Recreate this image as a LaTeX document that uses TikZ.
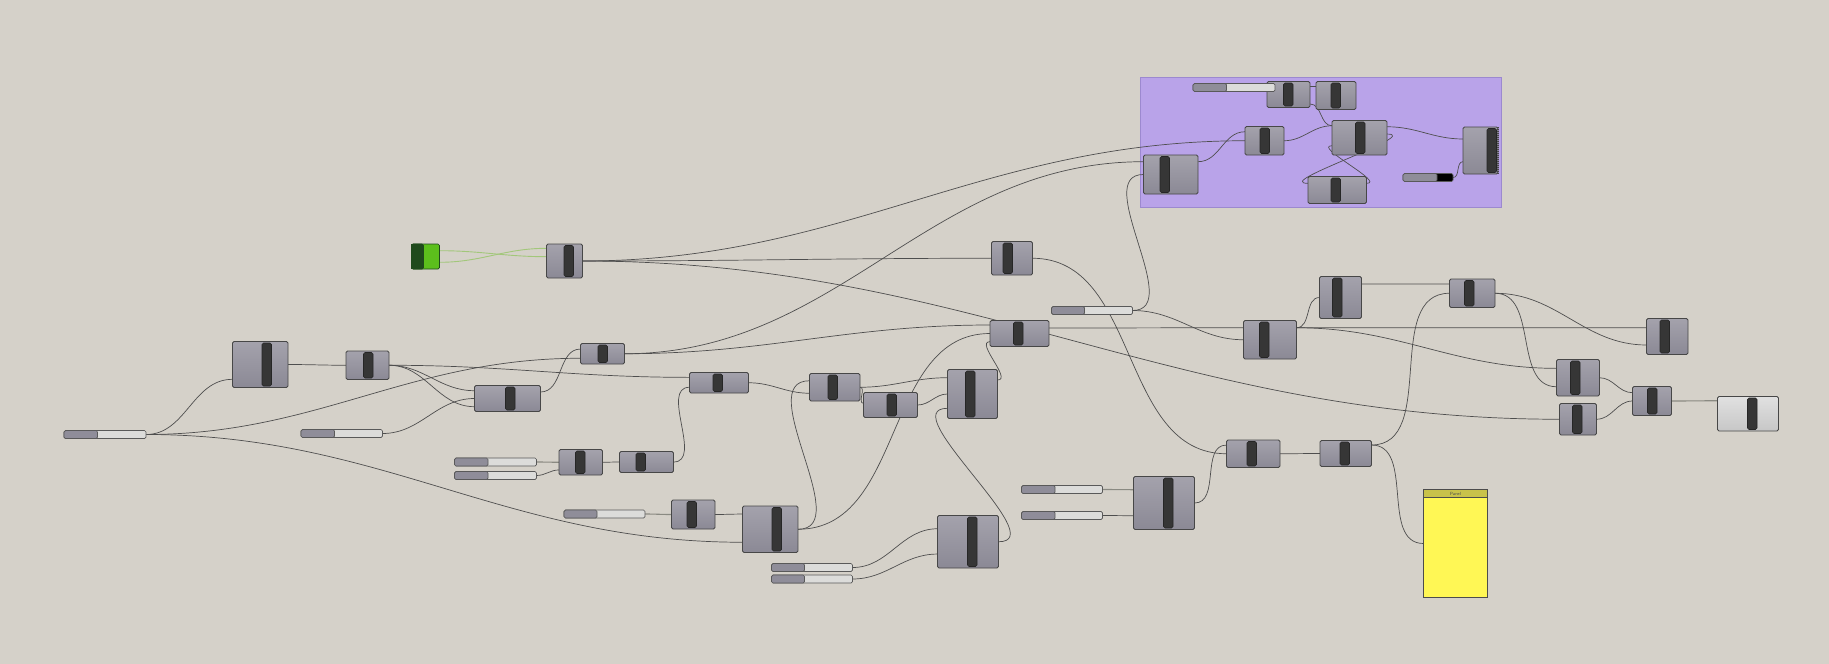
\documentclass[tikz,border=0pt]{standalone}
\usepackage{tikz}
\usetikzlibrary{positioning, calc, backgrounds}
\pgfdeclarelayer{wires}
\pgfsetlayers{background,wires,main}

\definecolor{cCanvas}   {HTML}{D5D1C9}
\definecolor{cGroup}    {HTML}{B9A3E9}
\definecolor{cGroupEdge}{HTML}{9C89CF}
\definecolor{cBoxTop}   {HTML}{A4A2AC}
\definecolor{cBoxBot}   {HTML}{8B8995}
\definecolor{cEdge}     {HTML}{474747}
\definecolor{cBar}      {HTML}{363636}
\definecolor{cWire}     {HTML}{4E4E4E}
\definecolor{cWireLt}   {HTML}{8A8A82}
\definecolor{cSlideL}   {HTML}{8F8D99}
\definecolor{cSlideR}   {HTML}{DCDCDA}
\definecolor{cGreenDk}  {HTML}{1F4A1C}
\definecolor{cGreen}    {HTML}{5CBF1C}
\definecolor{cGreenWire}{HTML}{A2C77A}
\definecolor{cPanel}    {HTML}{FFF755}
\definecolor{cPanelHead}{HTML}{C8C24A}

\tikzset{
  ghgroup/.style={draw=cGroupEdge, fill=cGroup, line width=0.8pt, inner sep=0pt, outer sep=0pt},
  ghbox/.style={draw=cEdge, line width=0.8pt, top color=cBoxTop, bottom color=cBoxBot,
                rounded corners=1.5pt, inner sep=0pt, outer sep=0pt},
  ghbar/.style={draw=black!85, line width=0.6pt, fill=cBar, rounded corners=1.5pt,
                inner sep=0pt, outer sep=0pt, minimum width=9.5pt},
  ghslide/.style={draw=cEdge!90, line width=0.7pt, fill=cSlideR, rounded corners=1.5pt,
                  inner sep=0pt, outer sep=0pt, minimum height=8pt},
  ghgrip/.style={ghslide, fill=cSlideL},
  wire/.style={draw=cWire, line width=0.7pt, out=0, in=180},
  litewire/.style={wire, draw=cWireLt, line width=1.1pt},
  greenwire/.style={wire, draw=cGreenWire, line width=0.9pt},
  jagged/.style={draw=cEdge, line width=1.4pt, dash pattern=on 1pt off 1pt},
}

% component: [extra], name, x, y, width, height, bar offset
\newcommand{\ghcomp}[7][]{%
  \node[ghbox, #1, minimum width=#5pt, minimum height=#6pt, anchor=north west] (#2) at (#3,#4) {};
  \node[ghbar, minimum height=#6pt-3pt, anchor=north west] (#2-bar) at ([xshift=#7pt, yshift=-1.5pt]#2.north west) {};}
\newcommand{\ghslider}[5]{%
  \node[ghslide, minimum width=#4pt, anchor=north west] (#1) at (#2,#3) {};
  \node[ghgrip, minimum width=#5pt, anchor=north west] (#1-grip) at (#1.north west) {};}

\begin{document}
\begin{tikzpicture}[x=1pt, y=-1pt]
  \useasboundingbox (0,0) rectangle (1829,664);
  \begin{scope}[on background layer]
    \fill[cCanvas] (0,0) rectangle (1829,664);
    \node[ghgroup, minimum width=361.5pt, minimum height=130pt, anchor=north west] (grp) at (1140,77.5) {};
  \end{scope}

  % group
  \ghcomp{gA}{1267}{81.5}{43}{26}{16.5}
  \ghslider{gsl}{1193}{83.5}{82}{33.5}
  \ghcomp{gB}{1316}{81.5}{40}{28}{15}
  \ghcomp{gC}{1332}{120.5}{55}{34.5}{23.5}
  \ghcomp{gD}{1245}{126.5}{39}{28.5}{15}
  \ghcomp{gE}{1143.5}{155}{54.5}{39}{16.5}
  \ghcomp{gF}{1308}{176.5}{58.5}{27}{23}
  \ghcomp{gG}{1463}{127}{35}{47}{24}
  \draw[jagged] (gG.north east) -- (gG.south east);
  \node[ghslide, fill=black, minimum width=50pt, anchor=north west] (bsl) at (1403,173.5) {};
  \node[ghgrip, minimum width=34pt, anchor=north west] (bsl-grip) at (bsl.north west) {};

  % input param
  \node[draw=cGreenDk, fill=cGreen, line width=0.7pt, rounded corners=1.5pt, inner sep=0pt, outer sep=0pt,
        minimum width=28pt, minimum height=25pt, anchor=north west] (param) at (411.5,244) {};
  \node[draw=cGreenDk, fill=cGreenDk, line width=0.7pt, rounded corners=1.5pt, inner sep=0pt, outer sep=0pt,
        minimum width=12pt, minimum height=25pt, anchor=north west] (param-dk) at (param.north west) {};
  \draw[jagged, draw=cGreenDk] (param.north west) -- (param.south west);

  \ghcomp{H}{546.5}{244}{36}{34}{17.5}
  \ghcomp{O}{991.5}{241.5}{41}{33.5}{11.5}
  \ghcomp{I}{232.5}{341.5}{55.5}{46}{29.5}
  \ghcomp{J}{346}{351}{43}{28.5}{17.5}
  \ghcomp{K}{474.5}{385.5}{66}{26}{31}
  \ghcomp{L}{580.5}{343.5}{44}{20.5}{17.5}
  \ghcomp{M}{689.5}{372.5}{59}{20.5}{23.5}
  \ghcomp{Q}{809.5}{373.5}{50.5}{27.5}{18.5}
  \ghcomp{Qb}{863.5}{392.5}{54}{25}{23.5}
  \ghcomp{R}{947.5}{369.5}{50}{49}{18}
  \ghcomp{N}{990}{320.5}{59}{26}{23.5}
  \ghslider{sx}{1051.5}{306.5}{81}{33}
  \ghcomp{U}{1243.5}{320.5}{53}{38.5}{16}
  \ghcomp{V}{1319.5}{276.5}{42}{42}{13}
  \ghcomp{Z}{1449.5}{279}{45.5}{28.5}{15}
  \ghcomp{X}{1646.5}{318.5}{41.5}{36}{13.5}
  \ghcomp{Y}{1556.5}{359.5}{43}{36.5}{14}
  \ghcomp{W}{1559.5}{403.5}{37}{31.5}{13}
  \ghcomp{AA}{1632.5}{386.5}{39}{29}{15}
  \ghcomp[top color=black!12, bottom color=black!22]{BB}{1717.5}{396.5}{61}{34.5}{30}
  \ghcomp{AB}{1226.5}{440}{53.5}{27.5}{20.5}
  \ghcomp{AC}{1320}{440.5}{51.5}{26}{20}
  \ghcomp{AD}{1133.5}{476.5}{61}{53}{30}

  \node[draw=black!70, line width=0.8pt, fill=cPanel, inner sep=0pt, outer sep=0pt,
        minimum width=64pt, minimum height=108pt, anchor=north west] (panel) at (1423.5,489.5) {};
  \node[draw=black!70, line width=0.8pt, fill=cPanelHead, inner sep=0pt, outer sep=0pt,
        minimum width=64pt, minimum height=8pt, anchor=north west,
        font=\sffamily\fontsize{4.5}{5}\selectfont, text=black!70] (panel-head) at (panel.north west) {Panel};

  \ghslider{s1}{64}{430.5}{82}{33.5}
  \ghslider{s2}{301}{429.5}{81.5}{33.5}
  \ghslider{s3}{454.5}{458}{82}{33.5}
  \ghslider{s4}{454.5}{471.5}{82}{33.5}
  \ghcomp{AE}{559}{449.5}{43.5}{25.5}{16.5}
  \ghcomp{AF}{619.5}{451.5}{54}{21}{16.5}
  \ghslider{s5}{564}{510}{81}{33}
  \ghcomp{AG}{671.5}{500}{43.5}{29}{15.5}
  \ghcomp{P}{742.5}{506}{55.5}{46.5}{29.5}
  \ghslider{s6}{1021.5}{485.5}{81}{33.5}
  \ghslider{s7}{1021.5}{511.5}{81}{33.5}
  \ghslider{s8}{771.5}{563.5}{81}{33}
  \ghslider{s9}{771.5}{575}{81}{33}
  \ghcomp{T}{937.5}{515.5}{61}{52.5}{30}

  % wires
  \begin{pgfonlayer}{wires}
    \draw[greenwire] ([yshift=5.8pt]param.east) to ([yshift=4.3pt]H.west);
    \draw[greenwire] ([yshift=-5.8pt]param.east) to ([yshift=12.7pt]H.west);
    \draw[wire] (H.east) to (gD.west);
    \draw[wire] (H.east) to (O.west);
    \draw[wire] (H.east) to (W.west);
    \draw[wire] (s1.east) to ([yshift=-14.8pt]I.west);
    \draw[wire] (s1.east) to ([yshift=-4.5pt]L.west);
    \draw[wire] (s1.east) to ([yshift=-13pt]P.west);
    \draw[wire] (I.east) to (J.west);
    \draw[wire] (J.east) to ([yshift=7.8pt]K.west);
    \draw[wire] (J.east) to ([yshift=-8.2pt]K.west);
    \draw[wire] (J.east) to ([yshift=5.4pt]M.west);
    \draw[wire] (s2.east) to (K.west);
    \draw[wire] ([yshift=6.5pt]K.east) to ([yshift=4.7pt]L.west);
    \draw[wire] (L.east) to ([yshift=12.8pt]gE.west);
    \draw[wire] (L.east) to ([yshift=8.5pt]N.west);
    \draw[litewire] (s3.east) to (AE.west);
    \draw[wire] (s4.east) to ([yshift=-7.7pt]AE.west);
    \draw[wire] (AE.east) to (AF.west);
    \draw[wire] (AF.east) to ([yshift=-4.5pt]M.west);
    \draw[wire] (M.east) to ([yshift=-6pt]Q.west);
    \draw[litewire] (s5.east) to (AG.west);
    \draw[wire] (AG.east) to ([yshift=15.2pt]P.west);
    \draw[wire] (P.east) to ([yshift=6.5pt]Q.west);
    \draw[wire] (P.east) to (N.west);
    \draw[wire] (Q.east) to ([yshift=16.3pt]R.west);
    \draw[wire] (Q.east) to ([yshift=1.7pt]Qb.west);
    \draw[wire] (Qb.east) to (R.west);
    \draw[wire] (s8.east) to ([yshift=13pt]T.west);
    \draw[wire] (s9.east) to ([yshift=-12.3pt]T.west);
    \draw[wire] (T.east) to ([yshift=-14.3pt]R.west);
    \draw[wire] ([yshift=14pt]R.east) to ([yshift=-8.2pt]N.west);
    \draw[wire] ([yshift=5.5pt]N.east) to ([yshift=12pt]U.west);
    \draw[wire] (sx.east) to (gE.west);
    \draw[wire] (sx.east) to (U.west);
    \draw[wire] ([yshift=12pt]U.east) to (V.west);
    \draw[wire] ([yshift=12pt]U.east) to ([yshift=8.8pt]X.west);
    \draw[wire] ([yshift=12pt]U.east) to ([yshift=9.4pt]Y.west);
    \draw[wire] ([yshift=13.5pt]V.east) to ([yshift=9.2pt]Z.west);
    \draw[wire] (Z.east) to ([yshift=-9pt]Y.west);
    \draw[wire] (Z.east) to ([yshift=-8.5pt]X.west);
    \draw[wire] (Y.east) to ([yshift=8.3pt]AA.west);
    \draw[wire] (W.east) to (AA.west);
    \draw[litewire] (AA.east) to ([yshift=13pt]BB.west);
    \draw[wire] (O.east) to (AB.west);
    \draw[litewire] (s6.east) to ([yshift=13.3pt]AD.west);
    \draw[wire] (s7.east) to ([yshift=-12.7pt]AD.west);
    \draw[wire] (AD.east) to ([yshift=8.7pt]AB.west);
    \draw[wire] (AB.east) to (AC.west);
    \draw[wire] ([yshift=8.5pt]AC.east) to (Z.west);
    \draw[wire] ([yshift=8.5pt]AC.east) to (panel.west);
    % inside the group
    \draw[wire] ([yshift=12.8pt]gE.east) to ([yshift=9pt]gD.west);
    \draw[wire] (gD.east) to ([yshift=12pt]gC.west);
    \draw[wire] ([yshift=-9.5pt]gA.east) to ([yshift=12pt]gC.west);
    \draw[wire] ([yshift=8.5pt]gA.east) to ([yshift=9.5pt]gB.west);
    \draw[wire] ([yshift=11pt]gC.east) to ([yshift=11.5pt]gG.west);
    \draw[wire] ([yshift=3.7pt]gC.east) to ([yshift=6.7pt]gF.west);
    \draw[wire] ([yshift=6.7pt]gF.east) to ([yshift=-8pt]gC.west);
    \draw[wire] (bsl.east) to ([yshift=-11.2pt]gG.west);
  \end{pgfonlayer}
\end{tikzpicture}
\end{document}
